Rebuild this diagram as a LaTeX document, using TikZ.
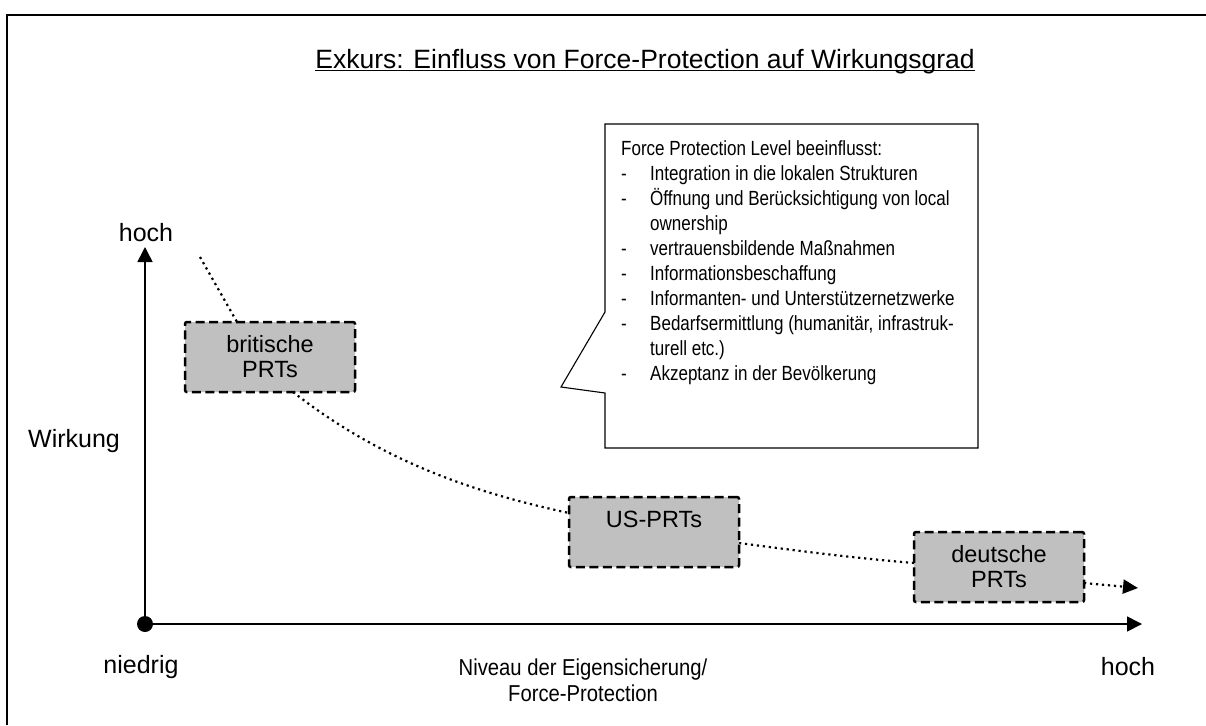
\documentclass[tikz,border=0pt]{standalone}
\usepackage{fontspec}
\setmainfont{Liberation Sans}
\newfontfamily\listfont{Liberation Sans}[FakeStretch=0.83]
\newfontfamily\narrowfont{Liberation Sans}[FakeStretch=0.88]
\usetikzlibrary{arrows.meta}
\definecolor{boxgray}{RGB}{192,192,192}
% underline drawn close under the baseline
\newcommand\undertext[1]{\setbox0\hbox{#1}\rlap{\rule[-3pt]{\wd0}{1.3pt}}\box0}
% dash of a list item with hanging indent
\newcommand\itemdash{\makebox[29pt][l]{-}}
\newcommand\itemgap{\hspace*{29pt}}
\begin{document}
\begin{tikzpicture}[x=1pt,y=-1pt,
  lbl/.style={font=\fontsize{25}{26}\selectfont, inner sep=0pt, align=center},
  prt/.style={draw, fill=boxgray, line width=2.5pt, dash pattern=on 9pt off 4.5pt,
    rounded corners=2pt, minimum width=170pt, minimum height=70pt, inner sep=0pt,
    align=center, font=\fontsize{23.5}{25}\selectfont},
  axis/.style={line width=1.6pt, -{Triangle[length=15pt,width=15pt]}},
  trend/.style={line width=2.2pt, dash pattern=on 2.2pt off 3.8pt},
  frame/.style={line width=2pt},
  balloon/.style={line width=1.1pt}
]
\useasboundingbox (0,0) rectangle (1206,725);

% outer frame
\draw[frame] (7,725) -- (7,15) -- (1206,15);

% heading
\node[font=\fontsize{26.5}{28}\selectfont, inner sep=0pt, anchor=base] (title) at (645,68)
  {\undertext{Exkurs: Einfluss von Force-Protection auf Wirkungsgrad}};

% speech balloon with its list
\draw[balloon] (605,124) -- (978,124) -- (978,448) -- (605,448) -- (605,393)
  -- (561,387) -- (605,312) -- cycle;
\node[font=\listfont\fontsize{20.5}{25}\selectfont, inner sep=0pt, align=left, anchor=north west]
  (fpl) at (621,140) {Force Protection Level beeinflusst:\\
  \itemdash Integration in die lokalen Strukturen\\
  \itemdash Öffnung und Berücksichtigung von local\\
  \itemgap ownership\\
  \itemdash vertrauensbildende Maßnahmen\\
  \itemdash Informationsbeschaffung\\
  \itemdash Informanten- und Unterstützernetzwerke\\
  \itemdash Bedarfsermittlung (humanitär, infrastruk-\\
  \itemgap turell etc.)\\
  \itemdash Akzeptanz in der Bevölkerung};

% axes
\coordinate (O) at (145,624);
\coordinate (ytop) at (145,247);
\coordinate (xend) at (1142,624);
\draw[axis] (O) -- (ytop);
\draw[axis] (O) -- (xend);
\fill (O) circle (8);

% axis labels
\node[lbl] (yhigh) at (146,233) {hoch};
\node[lbl] (ylabel) at (74,441) {Wirkung};
\node[lbl] (xlow) at (141,667) {niedrig};
\node[lbl, font=\narrowfont\fontsize{23}{26}\selectfont] (xlabel) at (583,680)
  {Niveau der Eigensicherung/\\Force-Protection};
\node[lbl] (xhigh) at (1128,667) {hoch};

% trend curve
\coordinate (t0) at (200,257);
\coordinate (t1) at (1138,588);
\draw[trend] (t0) -- (237,322);
\draw[trend] (293,392) .. controls +(87,68) and +(-98,-21) .. (569,513);
\draw[trend] (739,543) .. controls +(60,8) and +(-60,-5) .. (914,563);
\draw[trend, -{Triangle[length=15pt,width=14pt]}] (1084,583) -- (t1);

% PRT boxes
\node[prt] (brit) at (270,357) {britische\\PRTs};
\node[prt] (us) at (654,532) {US-PRTs\\\mbox{}};
\node[prt] (deu) at (999,567) {deutsche\\PRTs};
\end{tikzpicture}
\end{document}
